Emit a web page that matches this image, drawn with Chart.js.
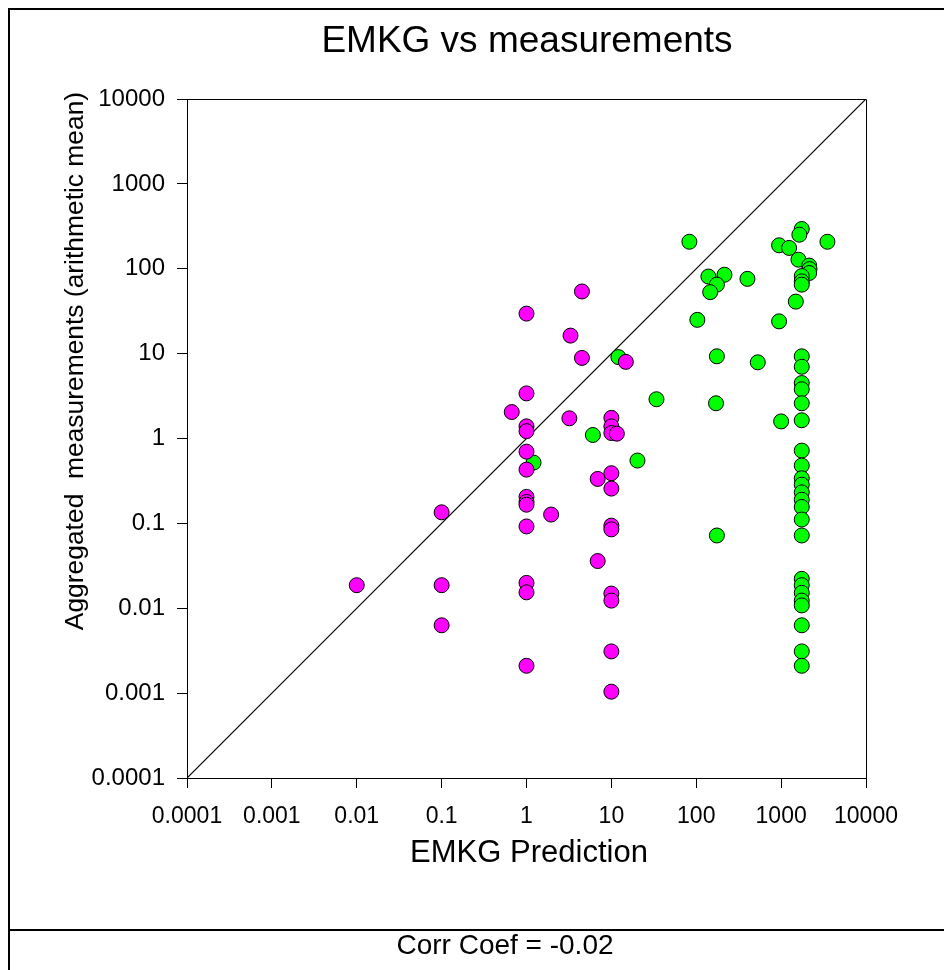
<!DOCTYPE html>
<html><head><meta charset="utf-8">
<script src="https://cdn.jsdelivr.net/npm/chart.js@4/dist/chart.umd.min.js"></script>
<style>html,body{margin:0;padding:0;background:#fff}#wrap{width:944px;height:970px;position:relative}</style>
</head><body><div id="wrap"><canvas id="c" width="944" height="970"></canvas></div>
<script>
const titleText = 'EMKG vs measurements';
const xTitle = 'EMKG Prediction';
const yTitle = 'Aggregated  measurements (arithmetic mean)';
const footText = 'Corr Coef = -0.02';
const tickValues = [0.0001, 0.001, 0.01, 0.1, 1, 10, 100, 1000, 10000];
const tickLabels = ['0.0001', '0.001', '0.01', '0.1', '1', '10', '100', '1000', '10000'];

const magentaX = [0.01, 0.1, 0.1, 0.1, 0.67, 1, 1, 1, 1, 1, 1, 1, 1, 1, 1, 1, 1, 1,
  1.95, 3.2, 3.3, 4.5, 4.5, 6.9, 6.9, 10, 10, 10, 11.6, 10, 10, 10, 10, 10, 10, 10, 10, 14.8];
const magentaY = [0.0187, 0.135, 0.0187, 0.0063, 2.05, 29.6, 3.4, 1.39, 1.22, 0.70, 0.43, 0.205, 0.179, 0.166, 0.092, 0.0199, 0.0154, 0.0021,
  0.127, 1.73, 16.3, 54, 8.9, 0.334, 0.036, 1.75, 1.39, 1.16, 1.14, 0.39, 0.257, 0.094, 0.085, 0.0149, 0.0123, 0.0031, 0.00104, 8.0];

const greenX = [83, 3510, 1750, 1640, 946, 1242, 1600, 2140, 2160, 2140, 1750, 1750, 1750,
  139, 215, 175, 146, 401, 1490, 103, 946, 175, 531, 1750, 1750, 1750, 1750, 1750, 1750, 1000,
  171, 34, 12.1, 6.05, 1.21, 20.3, 1750, 1750, 1750, 1750, 1750, 1750, 1750, 1750, 1750, 175,
  1750, 1750, 1750, 1750, 1750, 1750, 1750, 1750];
const greenY = [208, 208, 294, 252, 189, 176, 128, 109, 99, 89, 82, 71, 65,
  81, 85, 65, 53, 76, 41, 25, 24, 9.3, 7.9, 9.3, 7.0, 4.5, 3.8, 2.6, 1.64, 1.59,
  2.6, 2.9, 9.1, 1.1, 0.52, 0.55, 0.72, 0.48, 0.34, 0.286, 0.232, 0.19, 0.156, 0.111, 0.072, 0.072,
  0.0222, 0.0187, 0.0152, 0.0123, 0.0108, 0.0063, 0.0031, 0.0021];

const lineX = [0.0001, 10000];
const lineY = [0.0001, 10000];

const pts = (xs, ys) => xs.map((x, i) => ({x: x, y: ys[i]}));
const FONT = '"Liberation Sans", Arial, Helvetica, sans-serif';

const decor = {
  id: 'decor',
  beforeDraw(chart) {
    const ctx = chart.ctx;
    ctx.save();
    ctx.fillStyle = '#ffffff';
    ctx.fillRect(0, 0, chart.width, chart.height);
    ctx.restore();
  },
  afterDraw(chart) {
    const ctx = chart.ctx;
    const a = chart.chartArea;
    ctx.save();
    ctx.strokeStyle = '#000';
    ctx.lineWidth = 1;
    ctx.beginPath();
    ctx.moveTo(Math.round(a.left) + 0.5, Math.round(a.top) + 0.5);
    ctx.lineTo(Math.round(a.right) + 0.5, Math.round(a.top) + 0.5);
    ctx.lineTo(Math.round(a.right) + 0.5, Math.round(a.bottom) + 0.5);
    ctx.stroke();
    ctx.lineWidth = 2;
    ctx.beginPath();
    ctx.moveTo(9, chart.height);
    ctx.lineTo(9, 9);
    ctx.lineTo(chart.width, 9);
    ctx.moveTo(9, 930);
    ctx.lineTo(chart.width, 930);
    ctx.stroke();
    ctx.fillStyle = '#000';
    ctx.textAlign = 'center';
    ctx.textBaseline = 'middle';
    ctx.font = '37px ' + FONT;
    ctx.fillText(titleText, 527, 42);
    ctx.font = '31px ' + FONT;
    ctx.fillText(xTitle, 529, 853);
    ctx.font = '28px ' + FONT;
    ctx.fillText(footText, 505, 946);
    ctx.translate(76, 361);
    ctx.rotate(-Math.PI / 2);
    ctx.font = '26.4px ' + FONT;
    ctx.fillText(yTitle, 0, 0);
    ctx.restore();
  }
};

new Chart(document.getElementById('c'), {
  type: 'scatter',
  data: {
    datasets: [
      {
        label: 'magenta', data: pts(magentaX, magentaY), order: 1,
        backgroundColor: '#ff00ff', borderColor: '#000', borderWidth: 1,
        pointRadius: 7.5, pointHoverRadius: 7.5
      },
      {
        label: 'green', data: pts(greenX, greenY), order: 2,
        backgroundColor: '#00ff00', borderColor: '#000', borderWidth: 1,
        pointRadius: 7.5, pointHoverRadius: 7.5
      },
      {
        label: '1:1', type: 'line', data: pts(lineX, lineY), order: 3,
        borderColor: '#000', borderWidth: 1.2, pointRadius: 0, fill: false
      }
    ]
  },
  options: {
    responsive: false,
    animation: false,
    devicePixelRatio: 1,
    layout: { padding: { left: 0, right: 78, top: 99, bottom: 92 } },
    plugins: { legend: { display: false }, title: { display: false }, tooltip: { enabled: false } },
    scales: {
      x: {
        type: 'logarithmic', min: 0.0001, max: 10000,
        afterFit(s) { s.height = 100; },
        afterBuildTicks(s) { s.ticks = tickValues.map(v => ({ value: v })); },
        grid: { display: true, drawOnChartArea: false, drawTicks: true, tickLength: 10, color: '#000', lineWidth: 1 },
        border: { display: true, color: '#000', width: 1 },
        ticks: {
          autoSkip: false, maxRotation: 0, minRotation: 0, padding: 15, color: '#000',
          font: { family: FONT, size: 23 },
          callback: (v, i) => tickLabels[tickValues.indexOf(v)] ?? ''
        }
      },
      y: {
        type: 'logarithmic', min: 0.0001, max: 10000,
        afterFit(s) { s.width = 187; },
        afterBuildTicks(s) { s.ticks = tickValues.map(v => ({ value: v })); },
        grid: { display: true, drawOnChartArea: false, drawTicks: true, tickLength: 10, color: '#000', lineWidth: 1 },
        border: { display: true, color: '#000', width: 1 },
        ticks: {
          autoSkip: false, padding: 12, color: '#000',
          font: { family: FONT, size: 24 },
          callback: (v, i) => tickLabels[tickValues.indexOf(v)] ?? ''
        }
      }
    }
  },
  plugins: [decor]
});
</script>
</body></html>
